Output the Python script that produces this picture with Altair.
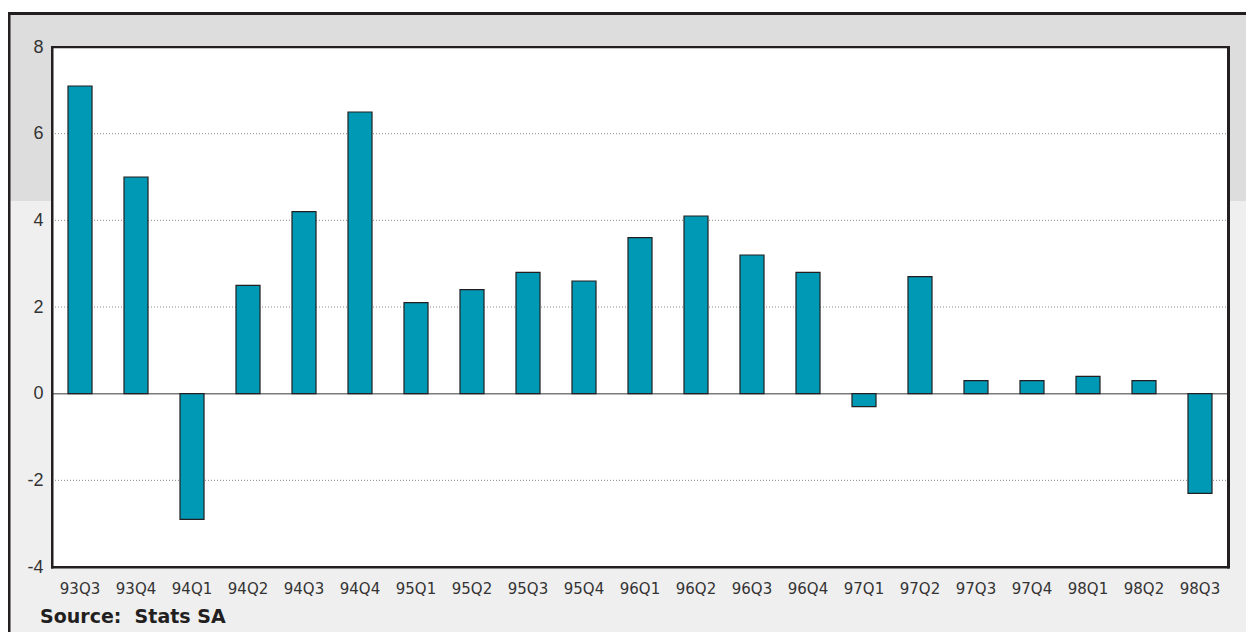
import altair as alt
import pandas as pd

quarters = ["93Q3", "93Q4", "94Q1", "94Q2", "94Q3", "94Q4", "95Q1", "95Q2", "95Q3", "95Q4",
            "96Q1", "96Q2", "96Q3", "96Q4", "97Q1", "97Q2", "97Q3", "97Q4", "98Q1", "98Q2", "98Q3"]
growth = [7.1, 5.0, -2.9, 2.5, 4.2, 6.5, 2.1, 2.4, 2.8, 2.6,
          3.6, 4.1, 3.2, 2.8, -0.3, 2.7, 0.3, 0.3, 0.4, 0.3, -2.3]
y_ticks = [-4, -2, 0, 2, 4, 6, 8]
grid_values = [-2, 2, 4, 6]
source_text = "Source:\u00a0 Stats SA"

W, H = 1176, 520
INK = "#231f20"

df = pd.DataFrame({"quarter": quarters, "growth": growth})
grid_df = pd.DataFrame({"v": grid_values})
one = pd.DataFrame({"a": [0]})

yscale = alt.Scale(domain=[-4, 8], nice=False, zero=False)
xscale = alt.Scale(paddingInner=0.571, paddingOuter=0.2857)
yaxis = alt.Axis(values=y_ticks, ticks=False, domain=False, grid=False, labelPadding=9,
                 labelFont="Liberation Sans", labelFontSize=18, labelColor="#333333",
                 labelExpr="'' + datum.value", zindex=2, title=None)

# background panels
bg_light = alt.Chart(one).mark_rect(color="#efefef").encode(
    x=alt.value(-42), x2=alt.value(1200), y=alt.value(154), y2=alt.value(600))
bg_dark = alt.Chart(one).mark_rect(color="#dddddd").encode(
    x=alt.value(-42), x2=alt.value(1200), y=alt.value(-32), y2=alt.value(154))
frame_top = alt.Chart(one).mark_rect(color=INK).encode(
    x=alt.value(-44), x2=alt.value(1200), y=alt.value(-35), y2=alt.value(-32))
frame_left = alt.Chart(one).mark_rect(color=INK).encode(
    x=alt.value(-44), x2=alt.value(-41.5), y=alt.value(-35), y2=alt.value(600))
plot_bg = alt.Chart(one).mark_rect(color="white").encode(
    x=alt.value(0), x2=alt.value(W), y=alt.value(0), y2=alt.value(H))

grid = alt.Chart(grid_df).mark_rule(color="#8a8a8a", strokeDash=[1, 2], strokeWidth=1).encode(
    y=alt.Y("v:Q", scale=yscale, axis=yaxis), x=alt.value(0), x2=alt.value(W))
zero = alt.Chart(one).mark_rule(color="#7a7a7a", strokeWidth=1.5).encode(
    y=alt.Y("a:Q", scale=yscale, axis=yaxis), x=alt.value(0), x2=alt.value(W))

bars = alt.Chart(df).mark_bar(color="#0099b5", stroke=INK, strokeWidth=1.2).encode(
    x=alt.X("quarter:N", sort=quarters, scale=xscale, title=None,
            axis=alt.Axis(labelAngle=0, ticks=False, domain=False, labelPadding=14,
                          labelFont="DejaVu Sans", labelFontSize=15, labelColor="#333333",
                          zindex=2)),
    y=alt.Y("growth:Q", scale=yscale, axis=yaxis),
)

border_left = alt.Chart(one).mark_rect(color=INK).encode(
    x=alt.value(-1), x2=alt.value(1.5), y=alt.value(-1), y2=alt.value(H + 1.5))
border_bottom = alt.Chart(one).mark_rect(color=INK).encode(
    x=alt.value(-1), x2=alt.value(W + 1.5), y=alt.value(H - 1), y2=alt.value(H + 1.5))
border_top = alt.Chart(one).mark_rect(color=INK).encode(
    x=alt.value(-1), x2=alt.value(W + 1.5), y=alt.value(-1), y2=alt.value(1.2))
border_right = alt.Chart(one).mark_rect(color=INK).encode(
    x=alt.value(W - 1), x2=alt.value(W + 2), y=alt.value(-1), y2=alt.value(H + 1.5))

source = alt.Chart(one).mark_text(
    text=source_text, align="left", baseline="alphabetic",
    font="DejaVu Sans", fontWeight="bold", fontSize=19, color=INK).encode(
    x=alt.value(-12), y=alt.value(576))

chart = alt.layer(
    bg_light, bg_dark, frame_top, frame_left, plot_bg, grid, zero, bars,
    border_left, border_bottom, border_top, border_right, source
).properties(
    width=W, height=H,
    autosize=alt.AutoSizeParams(type="none"),
    padding={"left": 44, "top": 39, "right": 18, "bottom": 65},
).configure_view(stroke=None).configure(background="white")

chart.save("out.html", embed_options={"renderer": "svg", "actions": False})
